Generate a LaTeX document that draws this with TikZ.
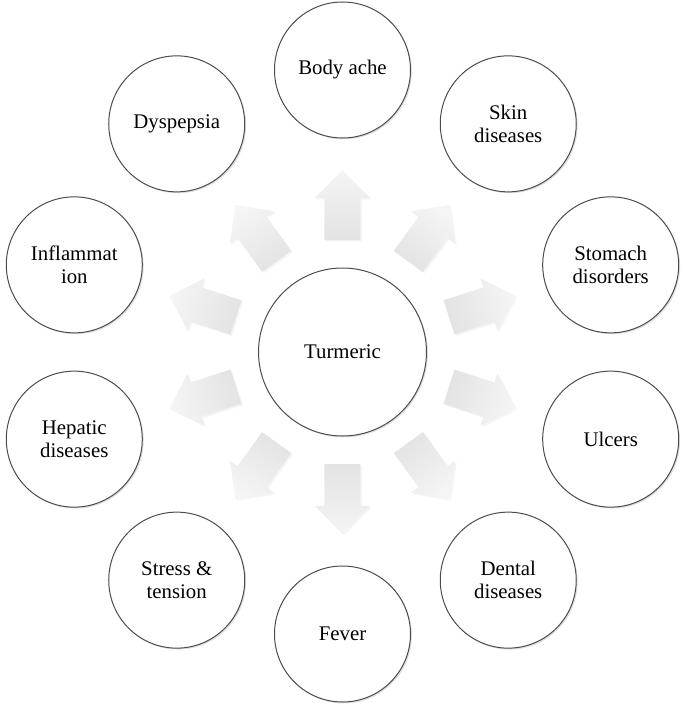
\documentclass[tikz,border=0pt]{standalone}
\usepackage{fontspec}
\setmainfont{Liberation Serif}
\usetikzlibrary{shadows}

\begin{document}
\begin{tikzpicture}[x=0.5pt,y=0.5pt,
  disc/.style={circle,draw=black!70,line width=0.5pt,fill=white,
    align=center,font=\fontsize{10.4}{11.4}\selectfont,
    drop shadow={opacity=0.25,shadow xshift=0.7pt,shadow yshift=-0.7pt}},
  bigarrow/.style={top color=black!4,bottom color=black!11,
    drop shadow={opacity=0.08,shadow xshift=0.8pt,shadow yshift=-0.8pt}}]
  \useasboundingbox (-342.5,-361) rectangle (342.5,352);
  % centre
  \node[disc,minimum size=84pt] (T) at (0,0) {Turmeric};
  % block arrows
  \foreach \a in {90,54,18,-18,-54,-90,-126,-162,162,126}
    \path[bigarrow,shading angle=\a-90,rotate=\a]
      (112,-18) -- (154,-18) -- (154,-27.5) -- (182,0)
      -- (154,27.5) -- (154,18) -- (112,18) -- cycle;
  % outer circles
  \foreach \a/\n/\t in {90/body/Body ache, 54/skin/Skin\\diseases,
      18/stomach/Stomach\\disorders, -18/ulcers/Ulcers,
      -54/dental/Dental\\diseases, -90/fever/Fever,
      -126/stress/Stress \&\\tension, -162/hepatic/Hepatic\\diseases,
      162/inflam/Inflammat\\ion, 126/dysp/Dyspepsia}
    \node[disc,minimum size=68pt] (\n) at (\a:282) {\t};
\end{tikzpicture}
\end{document}
